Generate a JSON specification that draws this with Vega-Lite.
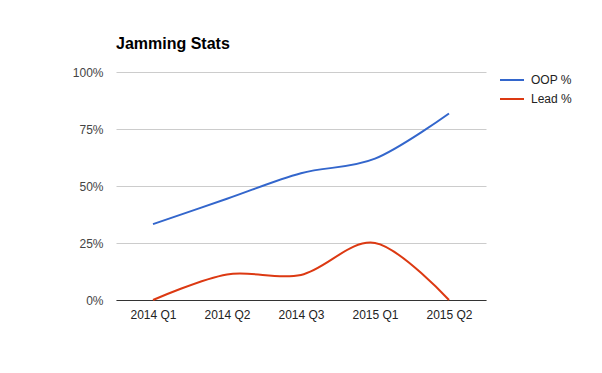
{
  "$schema": "https://vega.github.io/schema/vega-lite/v6.json",
  "autosize": {"type": "none"},
  "padding": {"left": 116, "top": 72, "right": 116, "bottom": 73},
  "width": 370,
  "height": 228,
  "background": "white",
  "title": {
    "text": "Jamming Stats",
    "anchor": "start",
    "frame": "group",
    "font": "Liberation Sans",
    "fontSize": 16,
    "fontWeight": "bold",
    "color": "#000000",
    "offset": 14
  },
  "data": {
    "values": [
      {"quarter": "2014 Q1", "series": "OOP %", "value": 0.333},
      {"quarter": "2014 Q2", "series": "OOP %", "value": 0.444},
      {"quarter": "2014 Q3", "series": "OOP %", "value": 0.556},
      {"quarter": "2015 Q1", "series": "OOP %", "value": 0.62},
      {"quarter": "2015 Q2", "series": "OOP %", "value": 0.818},
      {"quarter": "2014 Q1", "series": "Lead %", "value": 0},
      {"quarter": "2014 Q2", "series": "Lead %", "value": 0.112},
      {"quarter": "2014 Q3", "series": "Lead %", "value": 0.11},
      {"quarter": "2015 Q1", "series": "Lead %", "value": 0.25},
      {"quarter": "2015 Q2", "series": "Lead %", "value": 0}
    ]
  },
  "mark": {"type": "line", "interpolate": "cardinal", "strokeWidth": 2},
  "encoding": {
    "x": {
      "field": "quarter",
      "type": "ordinal",
      "sort": null,
      "scale": {"type": "point", "padding": 0.5},
      "axis": {
        "title": null,
        "labelAngle": 0,
        "ticks": false,
        "grid": false,
        "domain": true,
        "domainColor": "#333333",
        "domainWidth": 1,
        "labelPadding": 9,
        "labelFont": "Liberation Sans",
        "labelFontSize": 12,
        "labelColor": "#222222"
      }
    },
    "y": {
      "field": "value",
      "type": "quantitative",
      "scale": {"domain": [0, 1], "nice": false},
      "axis": {
        "title": null,
        "values": [0, 0.25, 0.5, 0.75, 1],
        "format": ".0%",
        "ticks": false,
        "domain": false,
        "grid": true,
        "gridColor": "#cccccc",
        "gridWidth": 1,
        "labelPadding": 13,
        "labelFont": "Liberation Sans",
        "labelFontSize": 12,
        "labelColor": "#444444"
      }
    },
    "color": {
      "field": "series",
      "type": "nominal",
      "scale": {"domain": ["OOP %", "Lead %"], "range": ["#3366cc", "#dc3912"]},
      "legend": {
        "title": null,
        "orient": "none",
        "legendX": 383,
        "legendY": -5,
        "symbolType": "stroke",
        "symbolSize": 576,
        "symbolStrokeWidth": 2,
        "rowPadding": -4,
        "labelOffset": 6,
        "labelFont": "Liberation Sans",
        "labelFontSize": 12,
        "labelColor": "#222222"
      }
    }
  },
  "config": {"view": {"stroke": null}}
}
